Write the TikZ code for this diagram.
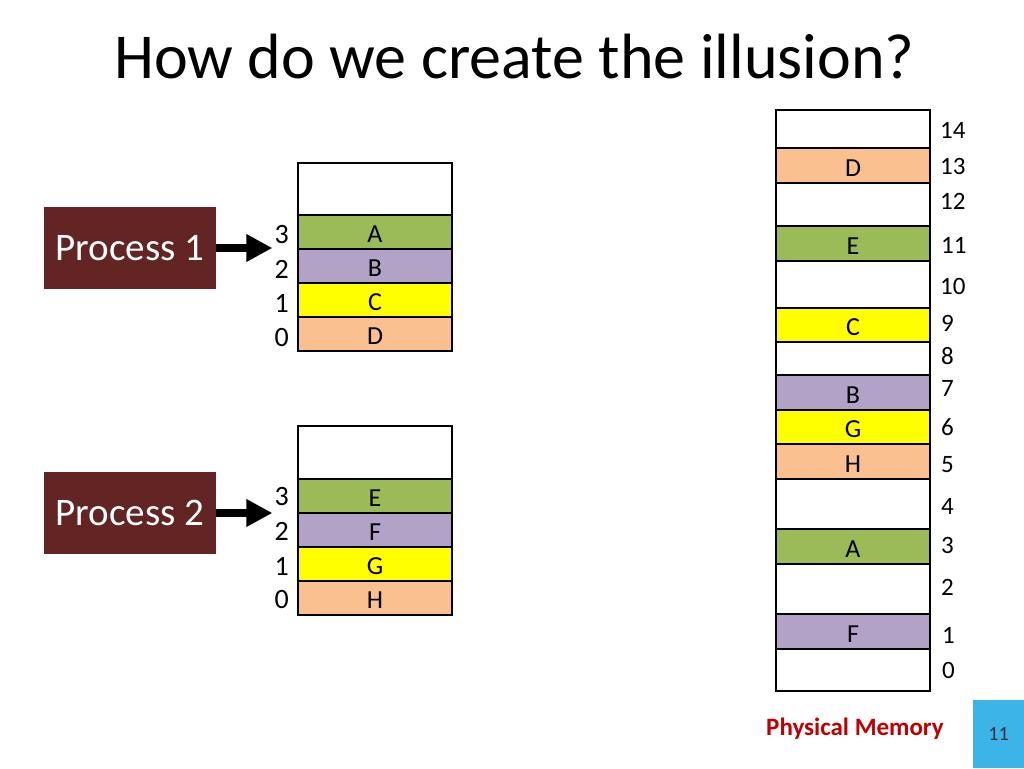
\documentclass[tikz,border=0pt]{standalone}
\usepackage{fontspec}
\setmainfont{Carlito}
\usetikzlibrary{arrows.meta}
\definecolor{pgreen}{RGB}{155,187,89}
\definecolor{ppurple}{RGB}{178,162,199}
\definecolor{pyellow}{RGB}{255,255,0}
\definecolor{ppeach}{RGB}{250,192,144}
\definecolor{maroon}{RGB}{99,37,35}
\definecolor{pmred}{RGB}{192,0,0}
\definecolor{slideblue}{RGB}{60,180,232}
\tikzstyle{cell} = [rectangle, draw=black, line width=2.8pt, minimum width=154pt, inner sep=0pt, text height=21pt, text depth=0pt, font=\fontsize{26}{26}\selectfont]
\tikzstyle{proc} = [rectangle, fill=maroon, text=white, minimum width=172pt, minimum height=82pt, font=\fontsize{39}{39}\selectfont]
\tikzstyle{arrow} = [line width=8pt, -{Triangle[length=26pt,width=26pt]}]
\tikzstyle{idx} = [inner sep=2pt, font=\fontsize{28}{28}\selectfont]
\tikzstyle{addr} = [anchor=west, inner sep=0pt, font=\fontsize{25}{25}\selectfont]

\begin{document}
\begin{tikzpicture}[x=1pt, y=-1pt]
        \useasboundingbox (0,0) rectangle (1024,768);
        \node (title) [anchor=base west, inner sep=0pt, font=\fontsize{64}{64}\selectfont] at (114,78) {How do we create the illusion?};

        % process 1
        \node (p1) [proc] at (130,248) {Process 1};
        \node (p1top) [cell, minimum height=52pt] at (375,189) {};
        \node (p1a) [cell, fill=pgreen, minimum height=34pt] at (375,232) {A};
        \node (p1b) [cell, fill=ppurple, minimum height=34pt] at (375,266) {B};
        \node (p1c) [cell, fill=pyellow, minimum height=34pt] at (375,300) {C};
        \node (p1d) [cell, fill=ppeach, minimum height=34pt] at (375,334) {D};
        \node (p1n3) [idx, anchor=east] at (291,235) {3};
        \node (p1n2) [idx, anchor=east] at (291,269) {2};
        \node (p1n1) [idx, anchor=east] at (291,303) {1};
        \node (p1n0) [idx, anchor=east] at (291,338) {0};
        \draw [arrow] (p1.east) -- (p1.east -| p1n3.west);

        % process 2
        \node (p2) [proc] at (130,513) {Process 2};
        \node (p2top) [cell, minimum height=53pt] at (375,452.5) {};
        \node (p2e) [cell, fill=pgreen, minimum height=34pt] at (375,496) {E};
        \node (p2f) [cell, fill=ppurple, minimum height=34pt] at (375,530) {F};
        \node (p2g) [cell, fill=pyellow, minimum height=34pt] at (375,564) {G};
        \node (p2h) [cell, fill=ppeach, minimum height=34pt] at (375,598) {H};
        \node (p2n3) [idx, anchor=east] at (291,497) {3};
        \node (p2n2) [idx, anchor=east] at (291,531) {2};
        \node (p2n1) [idx, anchor=east] at (291,566) {1};
        \node (p2n0) [idx, anchor=east] at (291,600) {0};
        \draw [arrow] (p2.east) -- (p2.east -| p2n3.west);

        % physical memory
        \node (m14) [cell, minimum height=38pt] at (853,129) {};
        \node (m13) [cell, fill=ppeach, minimum height=35pt] at (853,165.5) {D};
        \node (m12) [cell, minimum height=43pt] at (853,204.5) {};
        \node (m11) [cell, fill=pgreen, minimum height=35pt] at (853,243.5) {E};
        \node (m10) [cell, minimum height=47pt] at (853,284.5) {};
        \node (m9) [cell, fill=pyellow, minimum height=34pt] at (853,325) {C};
        \node (m8) [cell, minimum height=33pt] at (853,358.5) {};
        \node (m7) [cell, fill=ppurple, minimum height=35pt] at (853,392.5) {B};
        \node (m6) [cell, fill=pyellow, minimum height=34pt] at (853,427) {G};
        \node (m5) [cell, fill=ppeach, minimum height=35pt] at (853,461.5) {H};
        \node (m4) [cell, minimum height=50pt] at (853,504) {};
        \node (m3) [cell, fill=pgreen, minimum height=35pt] at (853,546.5) {A};
        \node (m2) [cell, minimum height=50pt] at (853,589) {};
        \node (m1) [cell, fill=ppurple, minimum height=35pt] at (853,631.5) {F};
        \node (m0) [cell, minimum height=42pt] at (853,670) {};

        \node (a14) [addr] at (940,130) {14};
        \node (a13) [addr] at (940,166) {13};
        \node (a12) [addr] at (940,201) {12};
        \node (a11) [addr] at (941,245) {11};
        \node (a10) [addr] at (940,286) {10};
        \node (a9) [addr] at (941,323) {9};
        \node (a8) [addr] at (941,356) {8};
        \node (a7) [addr] at (941,388) {7};
        \node (a6) [addr] at (941,427) {6};
        \node (a5) [addr] at (941,465) {5};
        \node (a4) [addr] at (941,506) {4};
        \node (a3) [addr] at (941,545) {3};
        \node (a2) [addr] at (941,587) {2};
        \node (a1) [addr] at (942,635) {1};
        \node (a0) [addr] at (942,670) {0};

        \node (pmem) [text=pmred, font=\fontsize{25}{25}\selectfont\bfseries] at (855,729) {Physical Memory};

        % slide number
        \node (num) [fill=slideblue, minimum width=51pt, minimum height=68pt, inner sep=0pt, text=black!80, font=\fontsize{20}{20}\selectfont] at (998.5,734) {11};
\end{tikzpicture}
\end{document}
